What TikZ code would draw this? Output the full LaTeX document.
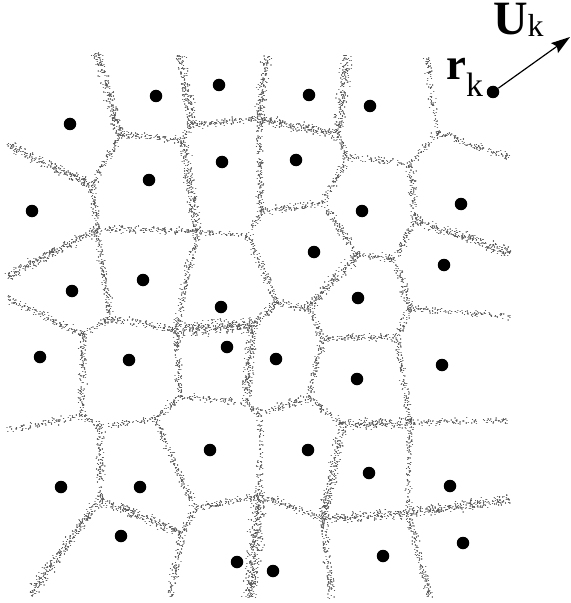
\documentclass[tikz,border=0pt]{standalone}
\usepackage{fontspec}
\setmainfont{Liberation Serif}
\usetikzlibrary{arrows.meta}
\definecolor{stipcol}{RGB}{85,85,85}
% stippled edge: #1 dots per unit length, #2 spread, #3 and #4 end coordinates
\newcommand\stip[4]{%
  \pgfpointanchor{#3}{center}\pgfgetlastxy{\stipAx}{\stipAy}%
  \pgfpointanchor{#4}{center}\pgfgetlastxy{\stipBx}{\stipBy}%
  \pgfmathsetmacro\stipDx{\stipBx-\stipAx}%
  \pgfmathsetmacro\stipDy{\stipBy-\stipAy}%
  \pgfmathsetmacro\stipL{veclen(\stipDx,\stipDy)}%
  \pgfmathtruncatemacro\stipN{max(2,#1*\stipL)}%
  \foreach \stipI in {1,...,\stipN}{%
    \pgfmathsetmacro\stipT{rnd}%
    \pgfmathsetmacro\stipO{#2*(rand+rand+rand)}%
    \pgfmathsetmacro\stipPx{\stipAx+\stipT*\stipDx-\stipO*\stipDy/\stipL}%
    \pgfmathsetmacro\stipPy{\stipAy+\stipT*\stipDy+\stipO*\stipDx/\stipL}%
    \pgfmathsetmacro\stipQx{\stipPx+0.05}%
    \pgfpathmoveto{\pgfqpoint{\stipPx pt}{\stipPy pt}}%
    \pgfpathlineto{\pgfqpoint{\stipQx pt}{\stipPy pt}}%
    \pgfusepath{stroke}%
  }%
}
\newcommand\eN[2]{\stip{1.6}{1.9}{#1}{#2}}
\newcommand\eD[2]{\stip{2.4}{2.5}{#1}{#2}}
\newcommand\eS[2]{\stip{1.1}{1.7}{#1}{#2}}
\newcommand\eV[2]{\stip{3.6}{3.5}{#1}{#2}}
\newcommand\lblU{{\fontsize{48}{48}\selectfont\bfseries U}%
  \raisebox{-2bp}{\fontsize{32}{32}\selectfont k}}
\newcommand\lblR{{\fontsize{45}{45}\selectfont\bfseries r}%
  \raisebox{-17bp}{\fontsize{34}{34}\selectfont k}}
\begin{document}
\begin{tikzpicture}[x=1bp,y=-1bp,
  stipples/.style={draw=stipcol,line cap=round,line width=1.3bp},
  blackdot/.style={circle,fill=black,inner sep=0pt,minimum size=12.5bp},
  lbl/.style={inner sep=0pt,anchor=base west},
  arr/.style={line width=1.2bp,-{Stealth[length=19bp,width=12bp,inset=3bp]}}]
\useasboundingbox (0,0) rectangle (571,603);
\pgfmathsetseed{4242}
% vertices
\coordinate (v1) at (120,134);
\coordinate (v2) at (183,141);
\coordinate (v3) at (192,125);
\coordinate (v4) at (197,231);
\coordinate (v5) at (97,229);
\coordinate (v6) at (259,119);
\coordinate (v7) at (261,212);
\coordinate (v8) at (248,235);
\coordinate (v9) at (92,185);
\coordinate (v10) at (338,135);
\coordinate (v11) at (348,157);
\coordinate (v12) at (437,133);
\coordinate (v13) at (410,164);
\coordinate (v14) at (415,220);
\coordinate (v15) at (395,259);
\coordinate (v16) at (323,203);
\coordinate (v17) at (357,255);
\coordinate (v18) at (83,335);
\coordinate (v19) at (82,416);
\coordinate (v20) at (100,427);
\coordinate (v21) at (155,419);
\coordinate (v22) at (180,396);
\coordinate (v23) at (247,403);
\coordinate (v24) at (176,330);
\coordinate (v25) at (110,318);
\coordinate (v26) at (252,325);
\coordinate (v27) at (277,303);
\coordinate (v28) at (308,308);
\coordinate (v29) at (410,308);
\coordinate (v30) at (397,337);
\coordinate (v31) at (322,338);
\coordinate (v32) at (410,423);
\coordinate (v33) at (408,513);
\coordinate (v34) at (343,424);
\coordinate (v35) at (323,519);
\coordinate (v36) at (308,398);
\coordinate (v37) at (195,508);
\coordinate (v41) at (182,533);
\coordinate (v38) at (260,495);
\coordinate (v39) at (260,413);
\coordinate (v40) at (100,500);
% free ends
\coordinate (t1) at (97,53);
\coordinate (t2) at (180,55);
\coordinate (t3) at (267,56);
\coordinate (t4) at (347,55);
\coordinate (t5) at (427,57);
\coordinate (l1) at (7,145);
\coordinate (l2) at (7,277);
\coordinate (l3) at (7,298);
\coordinate (l4) at (7,430);
\coordinate (b1) at (30,595);
\coordinate (b2) at (170,597);
\coordinate (b3) at (250,598);
\coordinate (b4) at (332,598);
\coordinate (b5) at (430,598);
\coordinate (r1) at (509,157);
\coordinate (r2) at (510,253);
\coordinate (r3) at (510,317);
\coordinate (r4) at (508,420);
\coordinate (r5) at (510,500);
% edges
\begin{scope}[stipples]
\eD{v1}{t1}
\eN{v1}{v2}
\eN{v1}{v9}
\eN{v2}{v3}
\eD{v2}{v4}
\eD{v3}{t2}
\eN{v3}{v6}
\eD{v6}{t3}
\eD{v6}{v10}
\eN{v6}{v7}
\eD{v10}{t4}
\eN{v10}{v11}
\eS{v11}{v13}
\eN{v11}{v16}
\eS{v12}{t5}
\eS{v12}{v13}
\eN{v12}{r1}
\eN{v13}{v14}
\eD{v14}{r2}
\eN{v14}{v15}
\eN{v15}{v17}
\eN{v15}{v29}
\eN{v16}{v7}
\eN{v16}{v17}
\eD{v17}{v28}
\eS{v7}{v8}
\eS{v8}{v4}
\eN{v8}{v27}
\eN{v4}{v5}
\eN{v4}{v24}
\eD{v9}{l1}
\eN{v9}{v5}
\eD{v5}{l2}
\eN{v5}{v25}
\eN{v25}{v18}
\eN{v25}{v24}
\eN{v18}{l3}
\eN{v18}{v19}
\eS{v19}{l4}
\eN{v19}{v20}
\eS{v20}{v21}
\eN{v20}{v40}
\eN{v21}{v22}
\eN{v21}{v37}
\eN{v22}{v24}
\eS{v22}{v23}
\eV{v24}{v26}
\eD{v26}{v27}
\eD{v26}{v23}
\eN{v27}{v28}
\eN{v28}{v31}
\eN{v31}{v30}
\eN{v31}{v36}
\eN{v29}{v30}
\eS{v29}{r3}
\eN{v30}{v32}
\eS{v32}{r4}
\eS{v32}{v33}
\eD{v32}{v34}
\eN{v34}{v36}
\eD{v34}{v35}
\eN{v36}{v39}
\eN{v39}{v23}
\eS{v39}{v38}
\eN{v38}{v37}
\eN{v38}{v35}
\eV{v38}{b3}
\eN{v37}{v41}
\eD{v41}{v40}
\eN{v41}{b2}
\eD{v40}{b1}
\eD{v35}{v33}
\eN{v35}{b4}
\eN{v33}{b5}
\eD{v33}{r5}
\end{scope}
% cell centres
\foreach \n/\x/\y in {p1/70/124,p2/156/96,p3/219/85,p4/309/95,p5/370/106,
  p6/32/211,p7/149/180,p8/222/162,p9/296/160,p10/362/211,p11/461/204,
  p12/72/291,p13/143/280,p14/314/252,p15/358/298,p16/444/265,
  p17/40/357,p18/129/360,p19/221/307,p20/227/347,p21/276/359,p22/357/379,p23/442/365,
  p24/61/487,p25/140/487,p26/210/450,p27/308/450,p28/369/473,p29/450/486,
  p30/121/536,p31/237/562,p32/273/571,p33/383/556,p34/463/543}
  \node[blackdot] (\n) at (\x,\y) {};
\node[blackdot] (rk) at (493,92) {};
% labels and velocity arrow
\node[lbl] (rtxt) at (446,80) {\lblR};
\node[lbl] (utxt) at (493,35) {\lblU};
\coordinate (utip) at (570,37);
\draw[arr] (rk) -- (utip);
\end{tikzpicture}
\end{document}
